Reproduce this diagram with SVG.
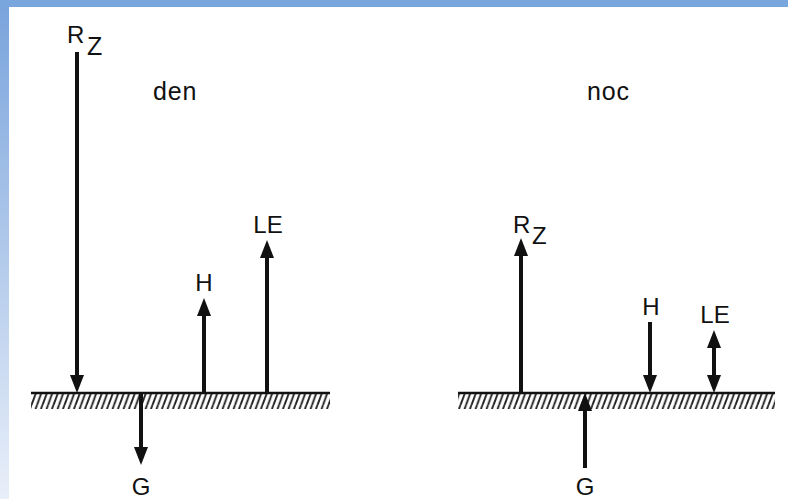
<svg xmlns="http://www.w3.org/2000/svg" width="788" height="499" viewBox="0 0 788 499">
<style>
.lbl{font-family:"Liberation Sans",Arial,sans-serif;font-size:24px;fill:#111;}
.sm{font-family:"Liberation Sans",Arial,sans-serif;font-size:25px;letter-spacing:0.8px;fill:#111;}
.ar{stroke:#111;stroke-width:4;fill:none;marker-end:url(#ah);}
.gl{stroke:#111;stroke-width:2.5;}
</style>
<defs>
<linearGradient id="fr" x1="0" y1="0" x2="0" y2="1">
<stop offset="0" stop-color="#78a3dc"/>
<stop offset="1" stop-color="#e9eff9"/>
</linearGradient>
<pattern id="hatch" width="5.5" height="15" patternUnits="userSpaceOnUse">
<line x1="-1.5" y1="15" x2="4" y2="0" stroke="#222" stroke-width="1.9"/>
<line x1="4" y1="15" x2="9.5" y2="0" stroke="#222" stroke-width="1.9"/>
</pattern>
<marker id="ah" viewBox="0 0 18 14" refX="4" refY="7" markerWidth="18" markerHeight="14" markerUnits="userSpaceOnUse" orient="auto-start-reverse">
<path d="M0,0 L18,7 L0,14 z" fill="#111"/>
</marker>
</defs>
<rect width="788" height="499" fill="#fff"/>
<rect x="0" y="0" width="9" height="499" fill="url(#fr)"/>
<rect x="0" y="0" width="788" height="7" fill="#7aa6de"/>

<g id="ground-den">
<rect x="31" y="394" width="299" height="15" fill="url(#hatch)"/>
<line class="gl" x1="31" y1="393" x2="330" y2="393"/>
</g>
<g id="ground-noc">
<rect x="458" y="394" width="317" height="15" fill="url(#hatch)"/>
<line class="gl" x1="458" y1="393" x2="775" y2="393"/>
</g>

<g id="connectors">
<line class="ar" x1="77" y1="52" x2="77" y2="379"/>
<line class="ar" x1="141" y1="393" x2="141" y2="451"/>
<line class="ar" x1="204" y1="393" x2="204" y2="312"/>
<line class="ar" x1="267" y1="393" x2="267" y2="254"/>
<line class="ar" x1="521" y1="393" x2="521" y2="252"/>
<line class="ar" x1="650" y1="322" x2="650" y2="379"/>
<line class="ar" x1="714" y1="344" x2="714" y2="379" style="marker-start:url(#ah)"/>
<line class="ar" x1="585" y1="468" x2="585" y2="407"/>
</g>

<g id="title-den"><text class="sm" x="153" y="100">den</text></g>
<g id="title-noc"><text class="sm" x="587" y="100">noc</text></g>

<g id="label-rz-den"><text class="lbl" x="67" y="43">R</text><text class="lbl" x="87" y="55" style="font-size:25px">Z</text></g>
<g id="label-g-den"><text class="lbl" x="141" y="495" text-anchor="middle">G</text></g>
<g id="label-h-den"><text class="lbl" x="204" y="291" text-anchor="middle">H</text></g>
<g id="label-le-den"><text class="lbl" x="268" y="233" text-anchor="middle">LE</text></g>

<g id="label-rz-noc"><text class="lbl" x="513" y="233">R</text><text class="lbl" x="532" y="244">Z</text></g>
<g id="label-h-noc"><text class="lbl" x="651" y="315" text-anchor="middle">H</text></g>
<g id="label-le-noc"><text class="lbl" x="715" y="323" text-anchor="middle">LE</text></g>
<g id="label-g-noc"><text class="lbl" x="585" y="495" text-anchor="middle">G</text></g>
</svg>
